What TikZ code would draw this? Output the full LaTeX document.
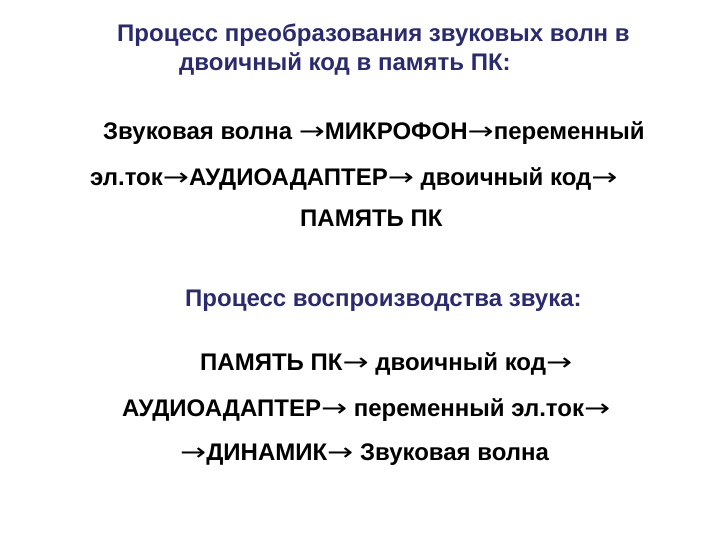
\documentclass[tikz,border=0pt]{standalone}
\usepackage{fontspec}
\setmainfont{Liberation Sans}
\newfontfamily\arrowfont{DejaVu Sans}
\definecolor{titleblue}{RGB}{42,42,112}
\newcommand{\ra}{{\arrowfont\mdseries\scalebox{1.3}[1]{→}}}
\begin{document}
\begin{tikzpicture}[x=1pt,y=-1pt,
  txt/.style={anchor=base west,inner sep=0pt,font=\fontsize{24}{28}\selectfont\bfseries,text=black},
  ttl/.style={txt,text=titleblue}]
\useasboundingbox (0,0) rectangle (720,540);
\node[ttl] (t1) at (117,42) {Процесс преобразования звуковых волн в};
\node[ttl] (t2) at (179,71) {двоичный код в память ПК:};
\node[txt] (a1) at (103,140) {Звуковая волна \ra МИКРОФОН\ra переменный};
\node[txt] (a2) at (90,186) {эл.ток\ra АУДИОАДАПТЕР\ra{} двоичный код\ra};
\node[txt] (a3) at (300,226) {ПАМЯТЬ ПК};
\node[ttl] (t3) at (185,306) {Процесс воспроизводства звука:};
\node[txt] (b1) at (200,370) {ПАМЯТЬ ПК\ra{} двоичный код\ra};
\node[txt] (b2) at (122,416) {АУДИОАДАПТЕР\ra{} переменный эл.ток\ra};
\node[txt] (b3) at (180,460) {\ra ДИНАМИК\ra{} Звуковая волна};
\end{tikzpicture}
\end{document}
